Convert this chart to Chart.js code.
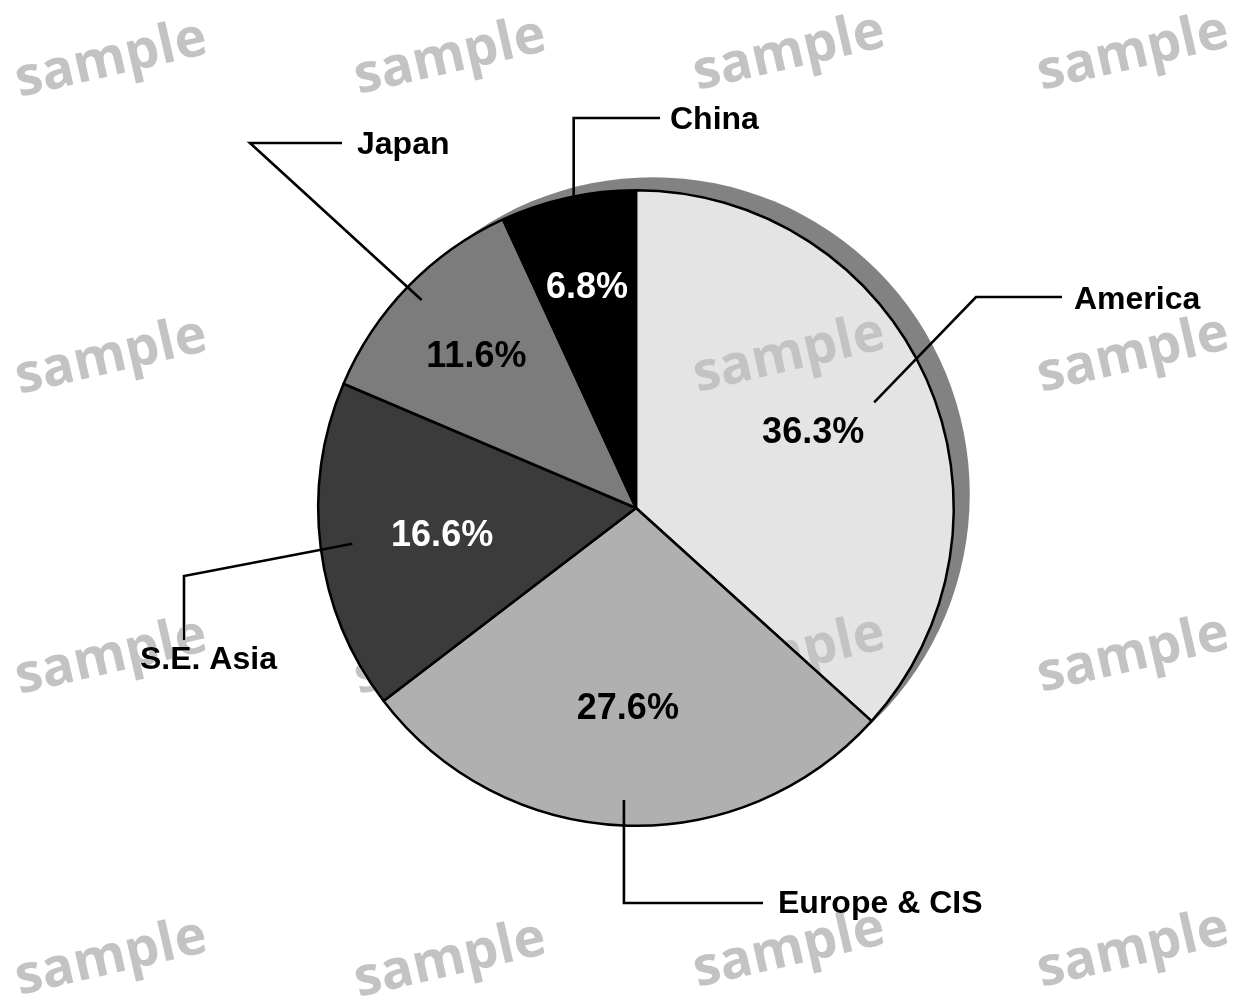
<!DOCTYPE html>
<html><head><meta charset="utf-8">
<script src="https://cdn.jsdelivr.net/npm/chart.js@4/dist/chart.umd.min.js"></script>
<style>html,body{margin:0;padding:0;background:#fff;overflow:hidden}#wrap{width:1246px;height:1004px}</style>
</head><body><div id="wrap"><canvas id="c" width="1246" height="1004"></canvas></div>
<script>
// ---- data ----
const categories = ['America', 'Europe & CIS', 'S.E. Asia', 'Japan', 'China'];
const shares = [36.3, 27.6, 16.6, 11.6, 6.8];
const percentLabels = ['36.3%', '27.6%', '16.6%', '11.6%', '6.8%'];
const watermarkText = 'sample';

// ---- styles ----
const sliceColors = ['#e4e4e4', '#b0b0b0', '#3b3b3b', '#7c7c7c', '#000000'];
const pctColors = ['#000', '#000', '#fff', '#000', '#fff'];
const pctRadiusFrac = [0.61, 0.62, 0.615, 0.70, 0.72];
const leaderStartFrac = [0.82, 0.92, 0.90, 0.94, 0.915];
// null x = keep the x of the start point (vertical segment)
const leaderElbows = [
  [[976, 297], [1062, 297]],
  [[null, 903], [763, 903]],
  [[184, 576], [184, 640]],
  [[250, 143], [342, 143]],
  [[null, 118], [660, 118]]
];
const labelAnchors = [[1074, 300], [778, 904], [140, 660], [357, 145], [670, 120]];
const wmX = [111, 450, 789, 1133];
const wmY = [[60, 57, 53, 53], [357, 357, 355, 355], [657, 657, 655, 655], [958, 960, 950, 950]];

const decor = {
  id: 'decor',
  beforeDraw(chart) {
    const ctx = chart.ctx;
    ctx.save(); ctx.fillStyle = '#fff'; ctx.fillRect(0, 0, chart.width, chart.height); ctx.restore();
  },
  beforeDatasetsDraw(chart) {
    const a = chart.getDatasetMeta(0).data[0];
    const ctx = chart.ctx;
    ctx.save();
    ctx.fillStyle = '#828282';
    ctx.beginPath();
    ctx.arc(a.x + 17, a.y - 14, a.outerRadius - 1, 0, Math.PI * 2);
    ctx.fill();
    ctx.restore();
  },
  afterDatasetsDraw(chart) {
    const ctx = chart.ctx;
    const arcs = chart.getDatasetMeta(0).data;
    ctx.save();
    // percentage labels
    ctx.font = 'bold 36px "Liberation Sans", Arial, sans-serif';
    ctx.textAlign = 'center';
    ctx.textBaseline = 'middle';
    arcs.forEach((a, i) => {
      const mid = (a.startAngle + a.endAngle) / 2;
      const r = a.outerRadius * pctRadiusFrac[i];
      ctx.fillStyle = pctColors[i];
      ctx.fillText(percentLabels[i], a.x + Math.cos(mid) * r, a.y + Math.sin(mid) * r + 4);
    });
    // leader lines
    ctx.strokeStyle = '#000';
    ctx.lineWidth = 2.6;
    ctx.lineJoin = 'miter';
    arcs.forEach((a, i) => {
      const mid = (a.startAngle + a.endAngle) / 2;
      const r = a.outerRadius * leaderStartFrac[i];
      const sx = a.x + Math.cos(mid) * r, sy = a.y + Math.sin(mid) * r;
      ctx.beginPath();
      ctx.moveTo(sx, sy);
      leaderElbows[i].forEach(p => ctx.lineTo(p[0] === null ? sx : p[0], p[1]));
      ctx.stroke();
    });
    // category labels
    ctx.font = 'bold 32px "Liberation Sans", Arial, sans-serif';
    ctx.textAlign = 'left';
    ctx.fillStyle = '#000';
    categories.forEach((c, i) => ctx.fillText(c, labelAnchors[i][0], labelAnchors[i][1]));
    // watermarks
    ctx.globalCompositeOperation = 'darken';
    ctx.fillStyle = '#c3c3c3';
    ctx.font = 'bold 54px "Open Sans", sans-serif';
    ctx.textAlign = 'center';
    wmY.forEach(row => row.forEach((y, j) => {
      ctx.save();
      ctx.translate(wmX[j], y);
      ctx.rotate(-13 * Math.PI / 180);
      ctx.fillText(watermarkText, 0, 0);
      ctx.restore();
    }));
    ctx.restore();
  }
};

new Chart(document.getElementById('c'), {
  type: 'pie',
  data: {
    labels: categories,
    datasets: [{
      data: shares,
      backgroundColor: sliceColors,
      borderColor: '#000',
      borderWidth: 2.5
    }]
  },
  options: {
    responsive: false,
    animation: false,
    devicePixelRatio: 1,
    layout: { padding: { left: 226, right: 200, top: 189, bottom: 177 } },
    plugins: { legend: { display: false }, tooltip: { enabled: false } }
  },
  plugins: [decor]
});
</script>
</body></html>
